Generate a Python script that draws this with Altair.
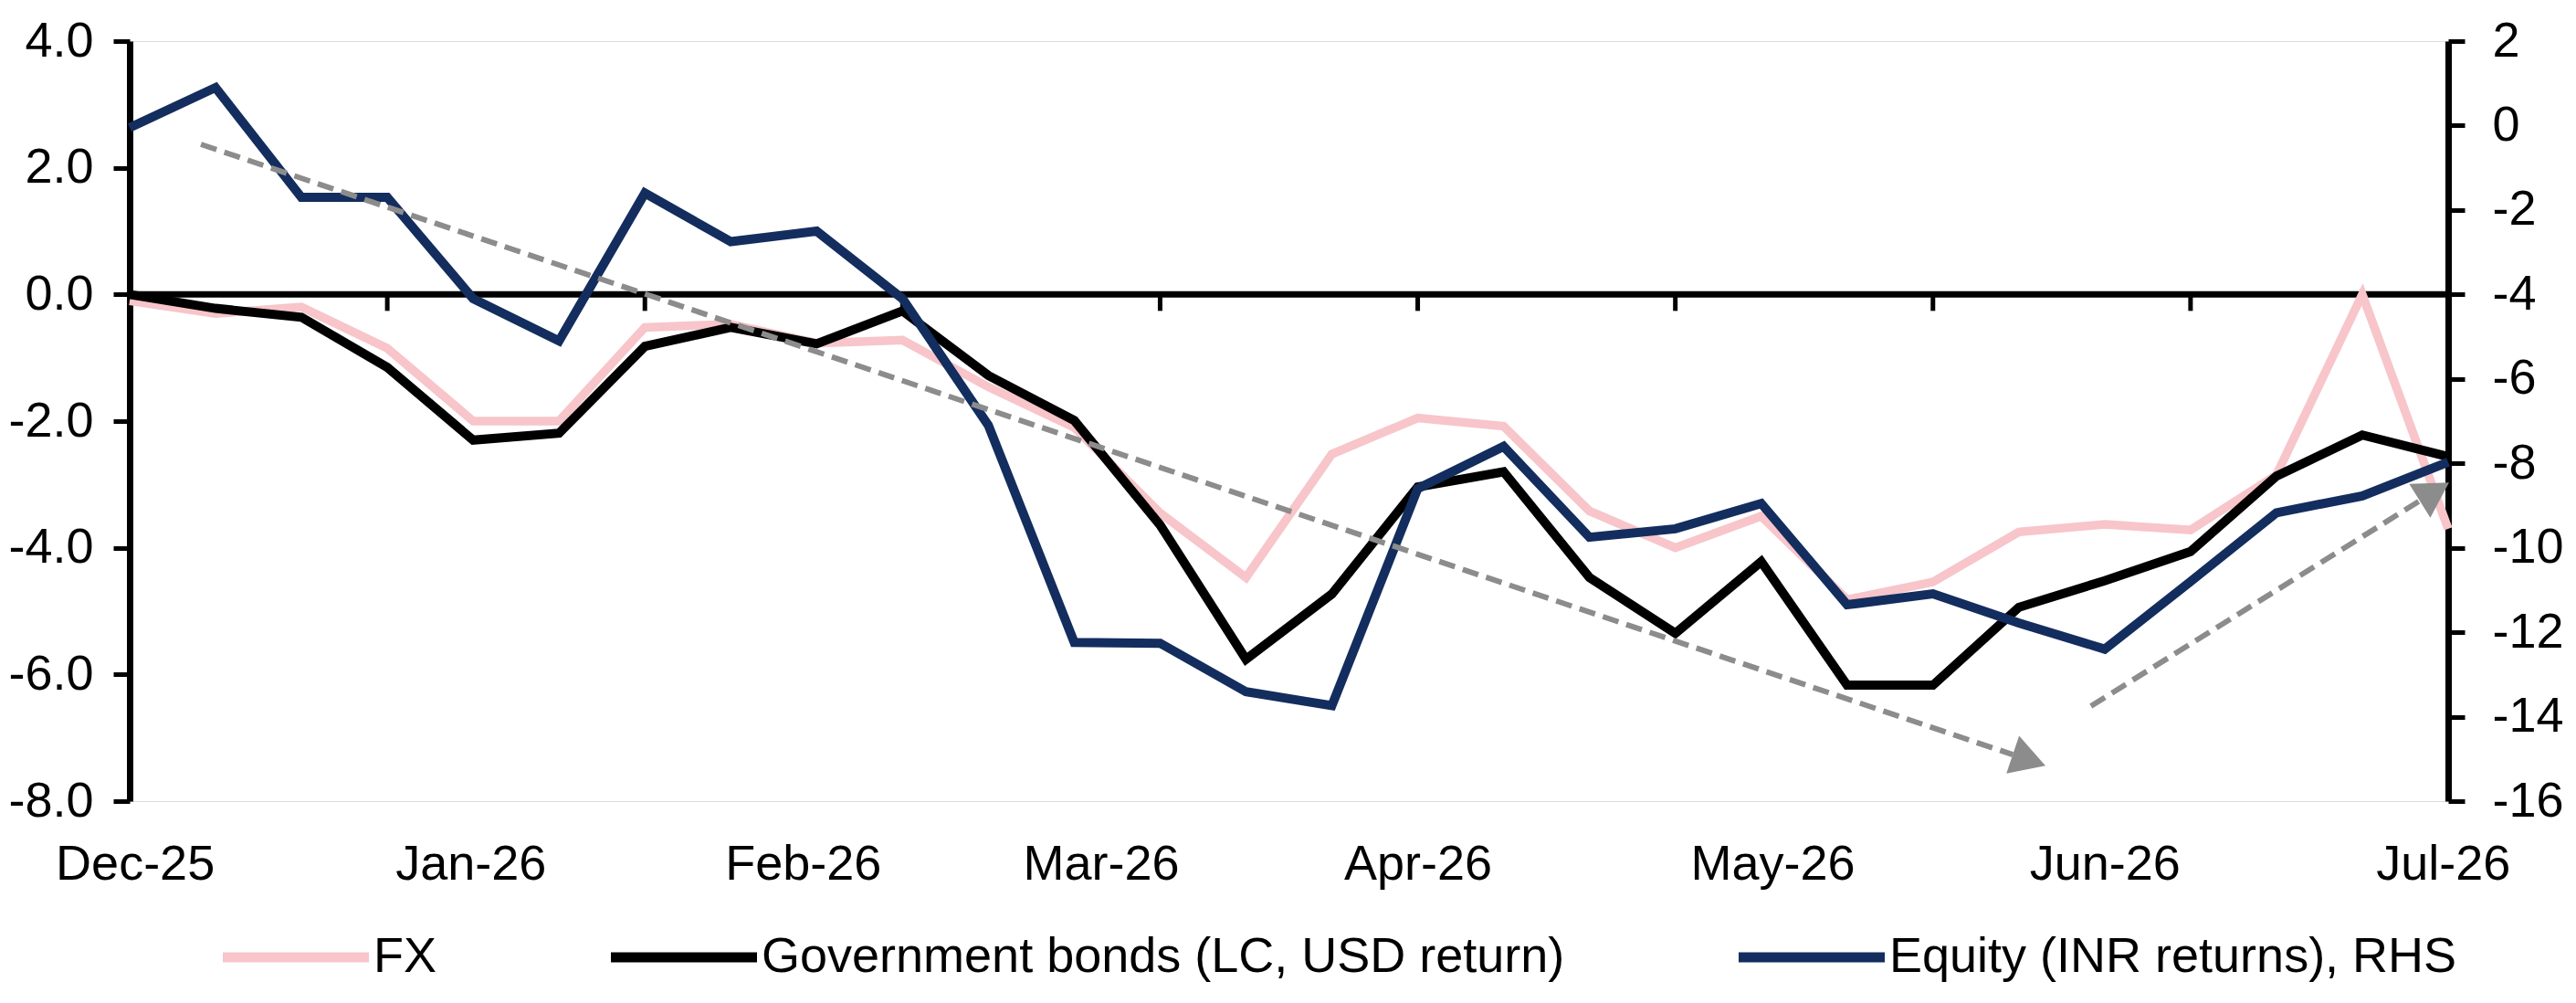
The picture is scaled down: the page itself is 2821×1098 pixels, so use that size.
import math
import altair as alt
import pandas as pd

# ---------------- data ----------------
IDX = list(range(28))
FX = [-0.10, -0.30, -0.20, -0.85, -2.00, -2.00, -0.52, -0.47, -0.77, -0.72,
      -1.46, -2.10, -3.45, -4.47, -2.52, -1.95, -2.08, -3.42, -4.00, -3.50,
      -4.82, -4.54, -3.75, -3.63, -3.72, -2.85, 0.00, -3.70]
GOV = [0.00, -0.22, -0.36, -1.15, -2.30, -2.19, -0.82, -0.52, -0.78, -0.26,
       -1.28, -1.99, -3.64, -5.76, -4.73, -3.04, -2.80, -4.47, -5.35, -4.22,
       -6.17, -6.17, -4.94, -4.52, -4.06, -2.87, -2.22, -2.56]
EQ = [-0.05, 0.90, -1.70, -1.70, -4.10, -5.10, -1.60, -2.75, -2.50, -4.10,
      -7.10, -12.24, -12.26, -13.41, -13.74, -8.60, -7.60, -9.75, -9.55, -8.95,
      -11.35, -11.09, -11.78, -12.40, -10.80, -9.17, -8.77, -7.97]

SERIES = ["FX", "Government bonds (LC, USD return)", "Equity (INR returns), RHS"]
COLORS = ["#F7C5CA", "#000000", "#132D5E"]

MONTHS = ["Dec-25", "Jan-26", "Feb-26", "Mar-26", "Apr-26", "May-26", "Jun-26", "Jul-26"]
MONTH_POS = [0.06, 3.97, 7.84, 11.31, 15.0, 19.13, 23.0, 26.94]
TICK_POS = [3, 6, 9, 12, 15, 18, 21, 24, 27]
LEFT_TICKS = [-8, -6, -4, -2, 0, 2, 4]
RIGHT_TICKS = [-16, -14, -12, -10, -8, -6, -4, -2, 0, 2]

# trend arrows (start, tip) in (index, left-axis value)
ARROWS = {
    "down": [(0.83, 2.37), (22.31, -7.44)],
    "up": [(22.84, -6.50), (27.01, -2.97)],
}

# ---------------- layout ----------------
W, H = 2539, 832
FONT = "Liberation Sans, Arial, sans-serif"
FS = 54
GRAY = "#8C8C8C"
HEAD = 1900  # triangle size (area units)

px_x = W / (IDX[-1] - IDX[0])
px_y = H / 12.0
head_len = math.sqrt(3) / 2 * math.sqrt(HEAD)

line_rows, head_rows = [], []
for name, ((x0, y0), (x1, y1)) in ARROWS.items():
    dx = (x1 - x0) * px_x
    dy = -(y1 - y0) * px_y
    L = math.hypot(dx, dy)
    ux, uy = dx / L, dy / L
    bx, by = x1 - head_len * ux / px_x, y1 + head_len * uy / px_y
    cx, cy = x1 - head_len / 2 * ux / px_x, y1 + head_len / 2 * uy / px_y
    ang = math.degrees(math.atan2(ux, -uy)) % 360
    line_rows += [{"arrow": name, "o": 0, "x": x0, "y": y0},
                  {"arrow": name, "o": 1, "x": bx, "y": by}]
    head_rows.append({"x": cx, "y": cy, "angle": ang})

df_fx = pd.DataFrame({"x": IDX, "y": FX, "series": SERIES[0]})
df_gov = pd.DataFrame({"x": IDX, "y": GOV, "series": SERIES[1]})
df_eq = pd.DataFrame({"x": IDX, "y": EQ, "series": SERIES[2]})
df_zero = pd.DataFrame({"y": [0]})
df_ticks = pd.DataFrame({"x": TICK_POS, "y": [0] * len(TICK_POS)})
df_lines = pd.DataFrame(line_rows)
df_heads = pd.DataFrame(head_rows)

label_expr = ("[" + ",".join(f"'{m}'" for m in MONTHS) + "][indexof(["
              + ",".join(str(p) for p in MONTH_POS) + "], datum.value)]")

X = alt.X("x:Q", scale=alt.Scale(domain=[0, 27], nice=False, zero=False),
          axis=alt.Axis(values=MONTH_POS, labelExpr=label_expr, title=None,
                        domain=False, ticks=False, tickSize=0, grid=False,
                        labelFont=FONT, labelFontSize=FS, labelColor="black",
                        labelPadding=42, labelFlush=False, labelOverlap=False,
                        labelLimit=0))

axis_common = dict(title=None, grid=False, domainColor="black", domainWidth=7,
                   tickColor="black", tickWidth=5, tickSize=18,
                   labelFont=FONT, labelFontSize=FS, labelColor="black",
                   labelOverlap=False, labelFlush=False, labelLimit=0)

Y_L = alt.Y("y:Q", scale=alt.Scale(domain=[-8, 4], nice=False, zero=False),
            axis=alt.Axis(values=LEFT_TICKS, orient="left", labelPadding=22,
                          labelExpr="datum.value < 0 ? '-' + format(-datum.value, '.1f') : format(datum.value, '.1f')",
                          **axis_common))
Y_R = alt.Y("y:Q", scale=alt.Scale(domain=[-16, 2], nice=False, zero=False),
            axis=alt.Axis(values=RIGHT_TICKS, orient="right", labelPadding=30,
                          labelExpr="datum.value < 0 ? '-' + format(-datum.value, 'd') : format(datum.value, 'd')",
                          **axis_common))
Y_A = alt.Y("y:Q", scale=alt.Scale(domain=[-8, 4], nice=False, zero=False), axis=None)

legend = alt.Legend(title=None, orient="none", direction="horizontal",
                    legendX=155, legendY=976, padding=0,
                    symbolType="M-4,0L4,0", symbolSize=1600, symbolStrokeWidth=11,
                    labelFont=FONT, labelFontSize=FS, labelColor="black",
                    labelOffset=58, columnPadding=168, labelLimit=0)
C = alt.Color("series:N", scale=alt.Scale(domain=SERIES, range=COLORS), legend=legend)

fx = alt.Chart(df_fx).mark_line(strokeWidth=9.5).encode(x=X, y=Y_L, color=C)
gov = alt.Chart(df_gov).mark_line(strokeWidth=10).encode(x=X, y=Y_L, color=C)
zero = alt.Chart(df_zero).mark_rule(color="black", strokeWidth=7).encode(y=Y_L)
ticks = alt.Chart(df_ticks).mark_rule(color="black", strokeWidth=5, y2Offset=18).encode(
    x=X, y=Y_L, y2=alt.Y2("y:Q"))
left = alt.layer(zero, ticks, fx, gov)

eq = alt.Chart(df_eq).mark_line(strokeWidth=10).encode(x=X, y=Y_R, color=C)
right = alt.layer(eq)

arrow_lines = alt.Chart(df_lines).mark_line(color=GRAY, strokeWidth=6, strokeDash=[18, 9]).encode(
    x=X, y=Y_A, detail="arrow:N", order="o:Q")
arrow_heads = alt.Chart(df_heads).mark_point(shape="triangle-up", filled=True, size=HEAD,
                                             color=GRAY, opacity=1).encode(
    x=X, y=Y_A, angle=alt.Angle("angle:Q", scale=None))
annot = alt.layer(arrow_lines, arrow_heads)

chart = (alt.layer(left, right, annot)
         .resolve_scale(y="independent")
         .properties(width=W, height=H,
                     padding={"left": 134, "top": 37, "right": 128, "bottom": 208},
                     autosize=alt.AutoSizeParams(type="none"))
         .configure_view(stroke=None)
         .configure(background="white"))

chart.save("out.html", embed_options={"renderer": "svg", "actions": False})
